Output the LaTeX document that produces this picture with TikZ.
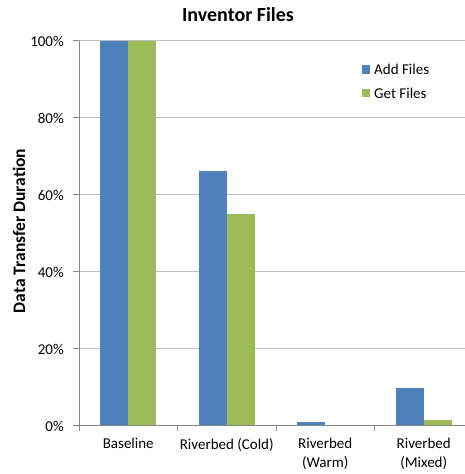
\documentclass[tikz,border=0pt]{standalone}
\usepackage{fontspec}
\setmainfont{Carlito}
\definecolor{addc}{HTML}{4F81BD}
\definecolor{getc}{HTML}{9BBB59}
\definecolor{axisc}{HTML}{868686}
\definecolor{gridc}{HTML}{C0C0C0}
\begin{document}
\begin{tikzpicture}[x=1pt,y=-1pt,
  lbl/.style={font=\fontsize{15}{19}\selectfont, inner sep=0pt},
  ylbl/.style={lbl, anchor=east},
  xlbl/.style={lbl, align=center, anchor=north},
  gridline/.style={draw=gridc, line width=0.8pt},
  axisline/.style={draw=axisc, line width=0.9pt}]
\useasboundingbox[fill=white] (0,0) rectangle (465,474);
% gridlines
\foreach \v in {20,40,60,80,100}{
  \draw[gridline] (79,{425.7-3.85*\v}) -- (465,{425.7-3.85*\v});
}
% bars
\def\bw{28}
\foreach \i/\a/\g in {0/100/100, 1/66.1/55, 2/0.9/0.3, 3/9.7/1.5}{
  \pgfmathsetmacro{\c}{79+98.5*(\i+0.5)}
  \fill[addc] ({\c-\bw},425.7) rectangle (\c,{425.7-3.85*\a});
  \fill[getc] (\c,425.7) rectangle ({\c+\bw},{425.7-3.85*\g});
}
% axes
\draw[axisline] (79,41) -- (79,425.7);
\draw[axisline] (79,425.7) -- (465,425.7);
\foreach \v in {0,20,40,60,80,100}{
  \draw[axisline] (73,{425.7-3.85*\v}) -- (79,{425.7-3.85*\v});
}
\foreach \x in {79,177.5,276,374.5}{
  \draw[axisline] (\x,425.7) -- (\x,431);
}
% y tick labels
\node[ylbl] (y0) at (64,426) {0\%};
\node[ylbl] (y20) at (64,349.3) {20\%};
\node[ylbl] (y40) at (64,272.3) {40\%};
\node[ylbl] (y60) at (64,195.3) {60\%};
\node[ylbl] (y80) at (64,118.3) {80\%};
\node[ylbl] (y100) at (64,41.3) {100\%};
% x labels
\node[xlbl] (x1) at (128.25,438) {Baseline};
\node[xlbl] (x2) at (226.75,438) {Riverbed (Cold)};
\node[xlbl] (x3) at (325.25,438) {Riverbed\\(Warm)};
\node[xlbl] (x4) at (423.75,438) {Riverbed\\(Mixed)};
% title
\node[font=\fontsize{20}{24}\selectfont\bfseries, inner sep=0pt] (title) at (238,15) {Inventor Files};
% y axis title
\node[font=\fontsize{17.5}{20}\selectfont\bfseries, inner sep=0pt, rotate=90] (ytitle) at (19,231) {Data Transfer Duration};
% legend
\fill[addc] (362,65) rectangle (370,73.5);
\node[lbl, anchor=west] (leg1) at (374,69.5) {Add Files};
\fill[getc] (362,88.5) rectangle (370,97);
\node[lbl, anchor=west] (leg2) at (374,93) {Get Files};
\end{tikzpicture}
\end{document}
